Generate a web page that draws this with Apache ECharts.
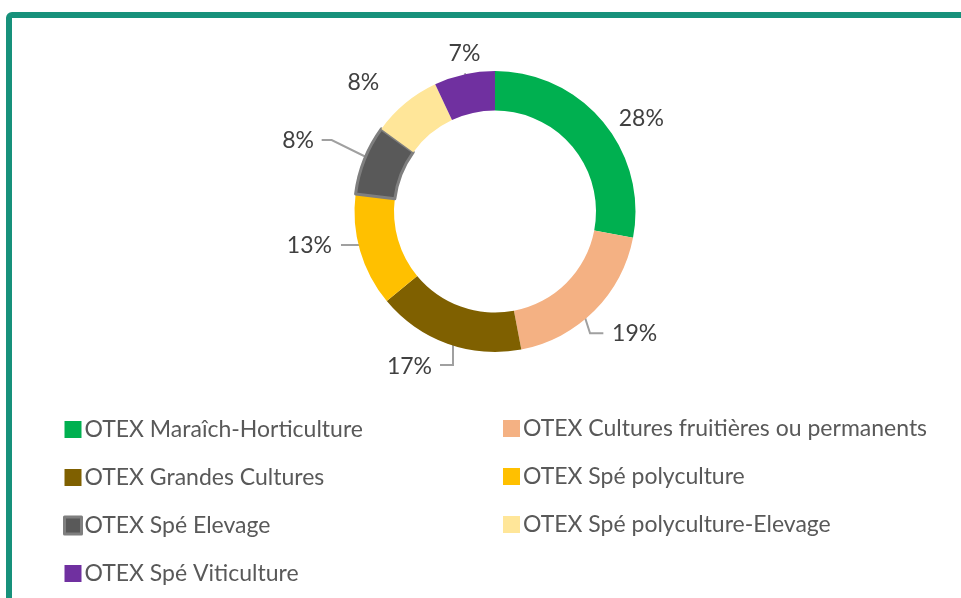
<!DOCTYPE html>
<html><head><meta charset="utf-8">
<script src="https://cdn.jsdelivr.net/npm/echarts@6/dist/echarts.min.js"></script>
<style>html,body{margin:0;padding:0;background:#fff}#c{width:961px;height:598px}</style>
</head><body><div id="c"></div>
<script>
const categories = [
  'OTEX Maraîch-Horticulture',
  'OTEX Cultures fruitières ou permanents',
  'OTEX Grandes Cultures',
  'OTEX Spé polyculture',
  'OTEX Spé Elevage',
  'OTEX Spé polyculture-Elevage',
  'OTEX Spé Viticulture'
];
const values = [28, 19, 17, 13, 8, 8, 7];
const colors = ['#00b050', '#f4b183', '#7f6000', '#ffc000', '#595959', '#ffe699', '#7030a0'];
const leftLegend = [0, 2, 4, 6];
const rightLegend = [1, 3, 5];

const CX = 495, CY = 211.5, R_OUT = 140.5, R_IN = 101;
const FONT = 'Lato';
const total = values.reduce((a, b) => a + b, 0);
function anchor(i) {
  let s = 0; for (let k = 0; k < i; k++) s += values[k];
  const mid = (s + values[i] / 2) / total * 2 * Math.PI;
  return [CX + R_OUT * Math.sin(mid), CY - R_OUT * Math.cos(mid)];
}
// label/leader offsets relative to each slice's outer mid-point (style only)
const labelStyle = [
  { label: [38, -3.6], align: 'center' },
  { label: [17.7, 22.5], align: 'left', line: [[-15, -11], [-4.3, 22.5], [9, 22.5]] },
  { label: [-15.4, 22.5], align: 'right', line: [[5.6, -18.7], [5.6, 21.3], [-7.4, 21.3]] },
  { label: [-28.1, -4.7], align: 'right', line: [[18.2, -5.7], [-19.1, -5.7]] },
  { label: [-50.4, -18.8], align: 'right', line: [[17.9, 5.2], [-32.7, -19.8], [-42.7, -19.8]] },
  { label: [-42.1, -20.2], align: 'center' },
  { label: [0.1, -20.9], align: 'center', line: [[3.9, 18.3], [0.6, -1.1]] }
];

const chart = echarts.init(document.getElementById('c'), null, { renderer: 'canvas' });
const data = categories.map((name, i) => {
  const d = { name, value: values[i], itemStyle: { color: colors[i] } };
  if (i === 4) { d.itemStyle.borderColor = '#7f7f7f'; d.itemStyle.borderWidth = 3; }
  if (!labelStyle[i].line) d.labelLine = { show: false };
  return d;
});
function legendData(idx) {
  return idx.map(i => i === 4
    ? { name: categories[i], itemStyle: { borderColor: '#7f7f7f', borderWidth: 3 } }
    : { name: categories[i], itemStyle: { borderWidth: 0 } });
}
const legendCommon = {
  orient: 'vertical', padding: 0, itemWidth: 17, itemHeight: 17, itemGap: 25,
  icon: 'rect', selectedMode: false,
  textStyle: { fontFamily: FONT, fontSize: 23, color: '#595959', padding: [0, 0, 0, -2] }
};
chart.setOption({
  animation: false,
  color: colors,
  graphic: [{
    type: 'rect', shape: { x: 9, y: 15, width: 1000, height: 700, r: 3 },
    style: { fill: 'none', stroke: '#17917b', lineWidth: 6 }, silent: true, z: 100
  }],
  legend: [
    Object.assign({ left: 63, top: 418, data: legendData(leftLegend) }, legendCommon),
    Object.assign({ left: 503, top: 417, data: legendData(rightLegend) }, legendCommon)
  ],
  series: [{
    type: 'pie',
    center: [CX, CY],
    radius: [R_IN, R_OUT],
    startAngle: 90,
    clockwise: true,
    avoidLabelOverlap: false,
    data: data,
    label: {
      show: true, position: 'outside',
      formatter: p => Math.round(p.percent) + '%',
      fontFamily: FONT, fontSize: 23, color: '#404040'
    },
    labelLine: { show: true, length: 10, length2: 10, smooth: false,
      lineStyle: { color: '#a0a0a0', width: 2 } },
    labelLayout: function (params) {
      const i = params.dataIndex;
      const s = labelStyle[i];
      const a = anchor(i);
      const out = {
        x: a[0] + s.label[0], y: a[1] + s.label[1],
        align: s.align, verticalAlign: 'middle'
      };
      if (s.line) {
        const pts = s.line.map(o => [a[0] + o[0], a[1] + o[1]]);
        out.labelLinePoints = pts.length === 2 ? [pts[0], pts[1], pts[1]] : pts;
      }
      return out;
    },
    emphasis: { disabled: true }
  }]
});
</script>
</body></html>
